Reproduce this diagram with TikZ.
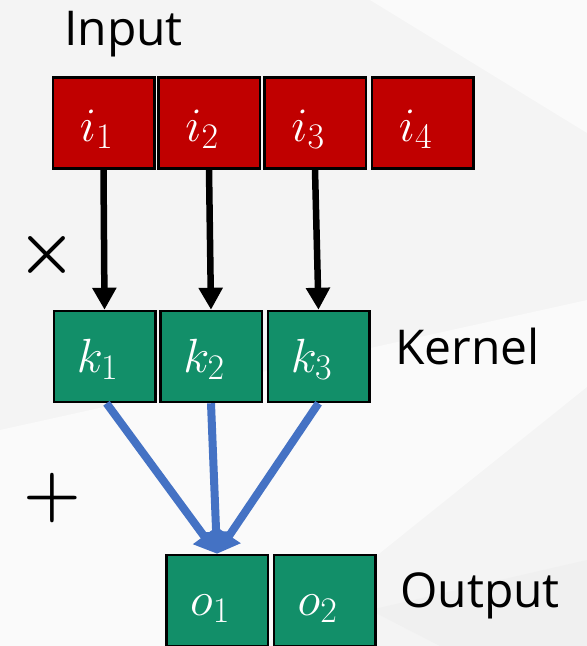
\documentclass[tikz,border=0pt]{standalone}
\usepackage{fix-cm}
\usepackage{fontspec}
\newfontfamily\labelfont{Open Sans}
\usetikzlibrary{arrows.meta}
\DeclareMathSizes{48}{48}{36}{28}
\definecolor{bgbase}{RGB}{244,244,244}
\definecolor{bglight}{RGB}{250,250,250}
\definecolor{bgdark}{RGB}{240,240,240}
\definecolor{inred}{RGB}{192,0,0}
\definecolor{kgreen}{RGB}{18,143,105}
\definecolor{sumblue}{RGB}{68,114,196}
\tikzset{
  cell/.style={draw=black, line width=2.5pt, inner sep=0pt, text=white,
    minimum width=101.5pt, minimum height=91pt, text depth=0pt,
    font=\fontsize{48}{48}\selectfont, execute at end node={\kern14pt}},
  incell/.style={cell, fill=inred, text height=36pt},
  kcell/.style={cell, fill=kgreen, text height=31pt},
  ocell/.style={cell, fill=kgreen, text height=29pt},
  caption/.style={font=\labelfont\fontsize{48}{48}\selectfont, inner sep=0pt, anchor=base west},
  opsign/.style={font=\fontsize{66}{66}\selectfont\boldmath, inner sep=0pt},
  mularrow/.style={line width=6.5pt, -{Triangle[width=23pt,length=22pt]}},
  sumarrow/.style={draw=sumblue, line width=8pt, -{Triangle[width=26pt,length=22pt]}, sumblue}
}
\begin{document}
\begin{tikzpicture}[x=1pt, y=-1pt]
  \fill[bgbase] (0,0) rectangle (587,646);
  \fill[bglight] (370,0) -- (587,0) -- (587,133) -- cycle;
  \fill[bglight] (0,430) -- (587,300) -- (587,387) -- (264,646) -- (0,646) -- cycle;
  \fill[bgdark] (370,610) -- (587,560) -- (587,646) -- (440,646) -- cycle;
  \useasboundingbox (0,0) rectangle (587,646);

  \node[caption] (inlabel) at (64,45) {Input};
  \node[incell] (i1) at (103.5,123) {$i_1$};
  \node[incell] (i2) at (209,123) {$i_2$};
  \node[incell] (i3) at (315,123) {$i_3$};
  \node[incell] (i4) at (422.5,123) {$i_4$};

  \node[kcell] (k1) at (104.5,356.5) {$k_1$};
  \node[kcell] (k2) at (211,356.5) {$k_2$};
  \node[kcell] (k3) at (318.5,356.5) {$k_3$};
  \node[caption] (klabel) at (395,364) {Kernel};

  \node[ocell] (o1) at (217,600.5) {$o_1$};
  \node[ocell] (o2) at (324.5,600.5) {$o_2$};
  \node[caption] (olabel) at (400,607) {Output};

  \node[opsign] (times) at (47,255) {$\times$};
  \node[opsign] (plus) at (52,498) {$+$};

  \draw[mularrow] (i1.south) -- (k1.north);
  \draw[mularrow] (i2.south) -- (k2.north);
  \draw[mularrow] (i3.south) -- (k3.north);

  \draw[sumarrow] ([xshift=2pt]k1.south) -- (o1.north);
  \draw[sumarrow] (k2.south) -- (o1.north);
  \draw[sumarrow] (k3.south) -- (o1.north);
\end{tikzpicture}
\end{document}
